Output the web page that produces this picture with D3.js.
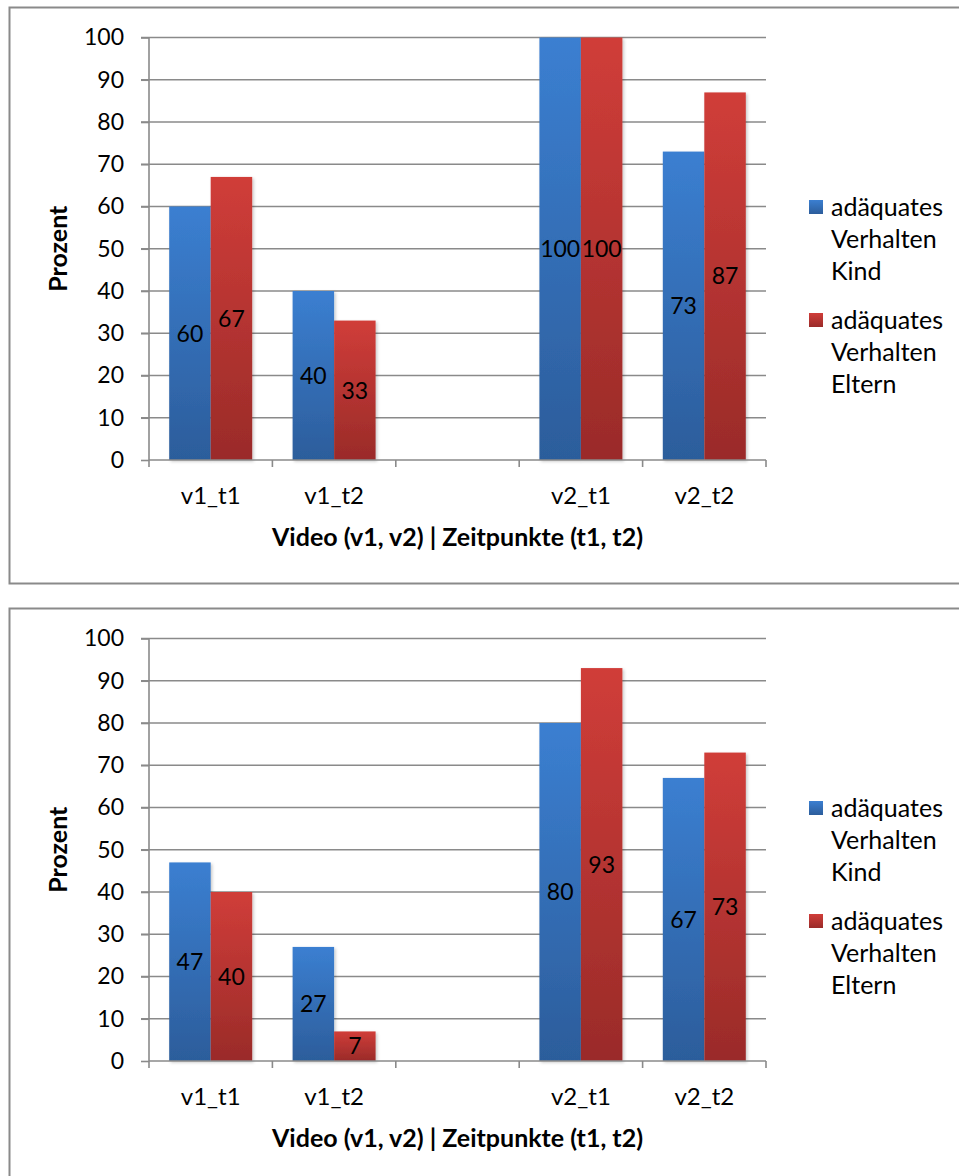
<!DOCTYPE html>
<html><head><meta charset="utf-8">
<script src="https://cdn.jsdelivr.net/npm/d3@7"></script>
<style>
html,body{margin:0;padding:0;background:#fff;}
svg{display:block;}
text{font-family:Lato,"Noto Sans",sans-serif;fill:#000;}
</style></head>
<body>
<svg id="c" width="959" height="1176"></svg>
<script>
// ---- data ----
const categories = ["v1_t1", "v1_t2", "", "v2_t1", "v2_t2"];
const seriesNames = ["adäquates Verhalten Kind", "adäquates Verhalten Eltern"];
const legendLines = [["adäquates", "Verhalten", "Kind"], ["adäquates", "Verhalten", "Eltern"]];
const chart1Kind   = [60, 40, null, 100, 73];
const chart1Eltern = [67, 33, null, 100, 87];
const chart2Kind   = [47, 27, null, 80, 67];
const chart2Eltern = [40, 7, null, 93, 73];
const yTicks = [0, 10, 20, 30, 40, 50, 60, 70, 80, 90, 100];
const yTitle = "Prozent";
const xTitle = "Video (v1, v2) | Zeitpunkte (t1, t2)";

const svg = d3.select("#c");
const defs = svg.append("defs");
function grad(id, top, bottom) {
  const g = defs.append("linearGradient").attr("id", id).attr("x1", 0).attr("y1", 0).attr("x2", 0).attr("y2", 1);
  g.append("stop").attr("offset", "0%").attr("stop-color", top);
  g.append("stop").attr("offset", "100%").attr("stop-color", bottom);
}
grad("gBlue", "#3b7fd1", "#2c5d9b");
grad("gRed", "#d03d39", "#9a2b29");
const sh = defs.append("filter").attr("id", "sh").attr("x", "-20%").attr("y", "-10%").attr("width", "150%").attr("height", "130%");
sh.append("feDropShadow").attr("dx", 1.5).attr("dy", 1.5).attr("stdDeviation", 1.5).attr("flood-color", "#000").attr("flood-opacity", 0.22);

const fills = ["url(#gBlue)", "url(#gRed)"];

function drawChart(offsetY, seriesData) {
  const g = svg.append("g").attr("transform", `translate(0,${offsetY})`);
  // frame
  g.append("rect").attr("x", 9.5).attr("y", 7.5).attr("width", 970).attr("height", 576)
    .attr("fill", "#fff").attr("stroke", "#8a8a8a").attr("stroke-width", 2);

  const x = d3.scaleBand().domain(d3.range(categories.length)).range([149, 766]).paddingInner(0).paddingOuter(0);
  const y = d3.scaleLinear().domain([0, 100]).range([460, 37.5]);
  const inner = d3.scaleBand().domain(d3.range(seriesData.length)).range([0, x.bandwidth()]).paddingInner(0).paddingOuter(0.487);

  // gridlines
  g.append("g").selectAll("line").data(yTicks.filter(t => t > 0)).join("line")
    .attr("x1", 141).attr("x2", 766).attr("y1", d => y(d)).attr("y2", d => y(d))
    .attr("stroke", "#8a8a8a").attr("stroke-width", 1.6);

  // y axis
  const yAxis = g.append("g").attr("transform", "translate(149,0)")
    .call(d3.axisLeft(y).tickValues(yTicks).tickSize(8).tickPadding(17).tickFormat(d3.format("d")));
  yAxis.select(".domain").attr("stroke", "#8a8a8a").attr("stroke-width", 1.6).attr("d", `M0,${y(100)}V${y(0)}`);
  yAxis.selectAll(".tick line").attr("stroke", "#8a8a8a").attr("stroke-width", 1.6);
  yAxis.selectAll(".tick text").attr("font-size", 23).attr("font-family", "Lato").attr("fill", "#000");

  // bars
  seriesData.forEach((vals, si) => {
    g.append("g").selectAll("rect").data(vals.map((v, i) => ({ v, i })).filter(d => d.v != null)).join("rect")
      .attr("x", d => x(d.i) + inner(si))
      .attr("y", d => y(d.v))
      .attr("width", inner.bandwidth())
      .attr("height", d => y(0) - y(d.v))
      .attr("fill", fills[si])
      .attr("filter", "url(#sh)");
  });

  // x axis
  const xAxis = g.append("g").attr("transform", `translate(0,${y(0)})`)
    .call(d3.axisBottom(x).tickSize(0).tickPadding(27).tickFormat(i => categories[i]));
  xAxis.select(".domain").attr("stroke", "#8a8a8a").attr("stroke-width", 1.6).attr("d", "M149,0H766");
  xAxis.selectAll(".tick text").attr("font-size", 24).attr("font-family", "Lato").attr("fill", "#000");
  const bounds = d3.range(categories.length + 1).map(i => i < categories.length ? x(i) : x.range()[1]);
  xAxis.append("g").selectAll("line").data(bounds).join("line")
    .attr("x1", d => d).attr("x2", d => d).attr("y1", 0).attr("y2", 7)
    .attr("stroke", "#8a8a8a").attr("stroke-width", 1.6);

  // data labels
  seriesData.forEach((vals, si) => {
    g.append("g").selectAll("text").data(vals.map((v, i) => ({ v, i })).filter(d => d.v != null)).join("text")
      .attr("x", d => x(d.i) + inner(si) + inner.bandwidth() / 2)
      .attr("y", d => (y(d.v) + y(0)) / 2)
      .attr("dy", "0.36em")
      .attr("text-anchor", "middle")
      .attr("font-size", 23)
      .text(d => d.v);
  });

  // axis titles
  g.append("text").attr("transform", `translate(67,${(y(0) + y(100)) / 2}) rotate(-90)`)
    .attr("text-anchor", "middle").attr("font-weight", "bold").attr("font-size", 25).text(yTitle);
  g.append("text").attr("x", (149 + 766) / 2).attr("y", 546)
    .attr("text-anchor", "middle").attr("font-weight", "bold").attr("font-size", 25).text(xTitle);

  // legend
  const lg = g.append("g");
  legendLines.forEach((lines, si) => {
    const top = 207 + si * 113;
    lg.append("rect").attr("x", 809).attr("y", top - 7).attr("width", 14).attr("height", 14)
      .attr("fill", fills[si]);
    lines.forEach((ln, li) => {
      lg.append("text").attr("x", 831).attr("y", top + li * 32).attr("dy", "0.36em")
        .attr("font-size", 25).text(ln);
    });
  });
}

drawChart(0, [chart1Kind, chart1Eltern]);
drawChart(601, [chart2Kind, chart2Eltern]);
</script>
</body></html>
